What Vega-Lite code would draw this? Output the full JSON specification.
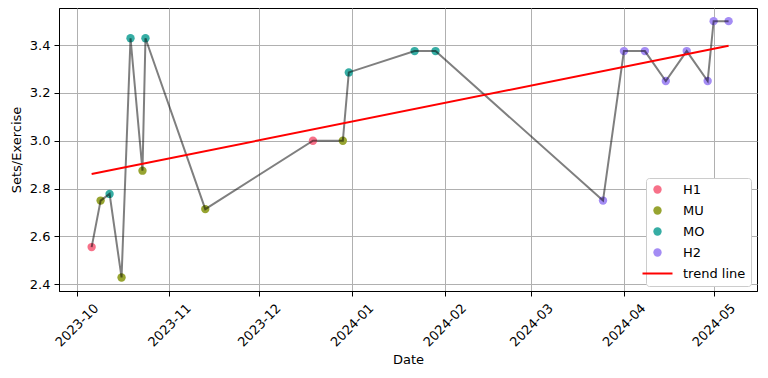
{
  "$schema": "https://vega.github.io/schema/vega-lite/v6.json",
  "width": 698,
  "height": 283,
  "autosize": {"type": "none"},
  "padding": {"left": 59, "top": 8, "right": 11, "bottom": 87},
  "config": {
    "font": "DejaVu Sans",
    "view": {"stroke": "black", "strokeWidth": 1},
    "axis": {
      "grid": true, "gridColor": "#b0b0b0", "gridWidth": 1, "gridOpacity": 1,
      "domainColor": "black", "domainWidth": 1, "tickColor": "black", "tickSize": 5,
      "labelFontSize": 13, "labelColor": "black", "labelFont": "DejaVu Sans",
      "titleFontSize": 13, "titleFontWeight": "normal", "titleColor": "black", "titleFont": "DejaVu Sans"
    }
  },
  "datasets": {
    "pts": [
      {"date": "2023-10-06", "value": 2.5556, "phase": "H1"},
      {"date": "2023-10-09", "value": 2.75, "phase": "MU"},
      {"date": "2023-10-12", "value": 2.7778, "phase": "MO"},
      {"date": "2023-10-16", "value": 2.4286, "phase": "MU"},
      {"date": "2023-10-19", "value": 3.4286, "phase": "MO"},
      {"date": "2023-10-23", "value": 2.875, "phase": "MU"},
      {"date": "2023-10-24", "value": 3.4286, "phase": "MO"},
      {"date": "2023-11-13", "value": 2.7143, "phase": "MU"},
      {"date": "2023-12-19", "value": 3.0, "phase": "H1"},
      {"date": "2023-12-29", "value": 3.0, "phase": "MU"},
      {"date": "2023-12-31", "value": 3.2857, "phase": "MO"},
      {"date": "2024-01-22", "value": 3.375, "phase": "MO"},
      {"date": "2024-01-29", "value": 3.375, "phase": "MO"},
      {"date": "2024-03-25", "value": 2.75, "phase": "H2"},
      {"date": "2024-04-01", "value": 3.375, "phase": "H2"},
      {"date": "2024-04-08", "value": 3.375, "phase": "H2"},
      {"date": "2024-04-15", "value": 3.25, "phase": "H2"},
      {"date": "2024-04-22", "value": 3.375, "phase": "H2"},
      {"date": "2024-04-29", "value": 3.25, "phase": "H2"},
      {"date": "2024-05-01", "value": 3.5, "phase": "H2"},
      {"date": "2024-05-06", "value": 3.5, "phase": "H2"}
    ],
    "trend": [
      {"date": "2023-10-06", "value": 2.861},
      {"date": "2024-05-06", "value": 3.397}
    ]
  },
  "encoding": {
    "x": {
      "field": "date", "type": "temporal",
      "scale": {"type": "utc", "domain": [
        {"year": 2023, "month": 9, "date": 25, "hours": 2, "utc": true},
        {"year": 2024, "month": 5, "date": 15, "hours": 12, "utc": true}
      ]},
      "axis": {
        "title": "Date", "format": "%Y-%m", "tickCount": {"interval": "month", "step": 1},
        "labelAngle": -45, "labelAlign": "center", "labelBaseline": "middle",
        "labelPadding": 29, "labelOverlap": false, "labelFlush": false, "titlePadding": 4
      }
    },
    "y": {
      "field": "value", "type": "quantitative",
      "scale": {"domain": [2.372, 3.555], "nice": false, "zero": false},
      "axis": {"title": "Sets/Exercise", "values": [2.4, 2.6, 2.8, 3.0, 3.2, 3.4], "format": ".1f", "labelPadding": 4, "titlePadding": 6}
    }
  },
  "layer": [
    {
      "data": {"name": "pts"},
      "mark": {"type": "circle", "size": 70, "opacity": 1},
      "encoding": {
        "color": {
          "field": "phase", "type": "nominal",
          "scale": {"domain": ["H1", "MU", "MO", "H2", "trend line"], "range": ["#f77189", "#97a431", "#36ada4", "#a48cf4", "red"]},
          "legend": {
            "title": null, "orient": "none", "legendX": 587, "legendY": 170,
            "fillColor": "white", "strokeColor": "#cccccc", "cornerRadius": 3, "padding": 5,
            "labelFontSize": 13, "labelFont": "DejaVu Sans", "labelColor": "black", "rowPadding": 7,
            "symbolSize": 900, "symbolOpacity": 1, "labelOffset": 19,
            "encode": {
              "symbols": {"update": {
                "shape": {"signal": "datum.value === 'trend line' ? 'stroke' : 'circle'"},
                "size": {"signal": "datum.value === 'trend line' ? 900 : 70"},
                "strokeWidth": {"signal": "datum.value === 'trend line' ? 2 : 0"},
                "stroke": {"signal": "datum.value === 'trend line' ? 'red' : 'transparent'"}
              }}
            }
          }
        }
      }
    },
    {
      "data": {"name": "pts"},
      "mark": {"type": "line", "color": "black", "opacity": 0.5, "strokeWidth": 2},
      "encoding": {}
    },
    {
      "data": {"name": "trend"},
      "mark": {"type": "line", "color": "red", "strokeWidth": 2},
      "encoding": {}
    }
  ]
}
